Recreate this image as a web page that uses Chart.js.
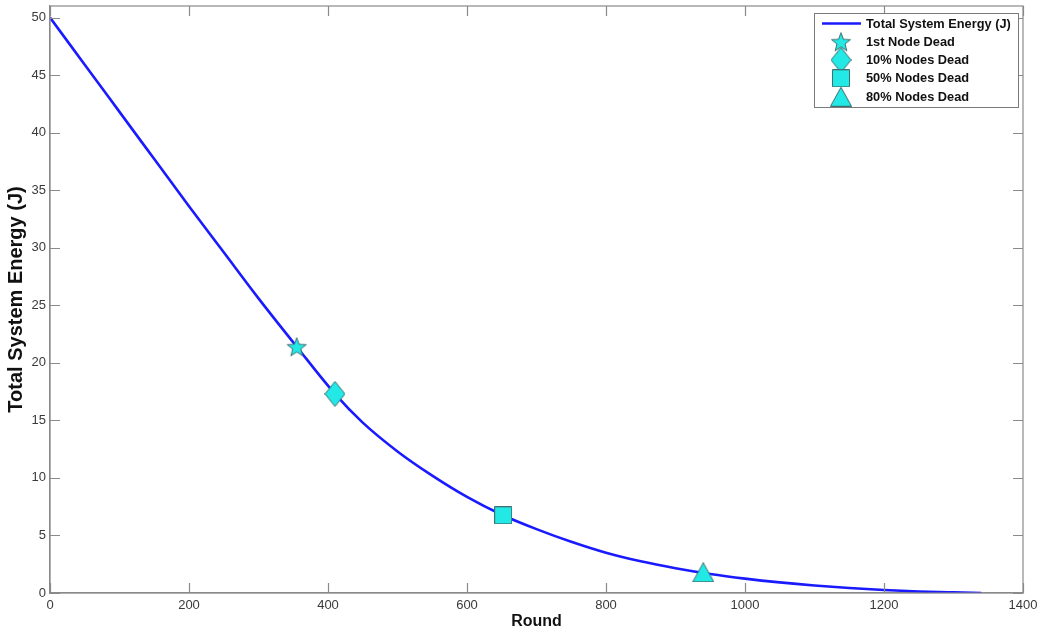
<!DOCTYPE html>
<html>
<head>
<meta charset="utf-8">
<script src="https://cdn.jsdelivr.net/npm/chart.js@4/dist/chart.umd.min.js"></script>
<style>
  html, body { margin: 0; padding: 0; background: #ffffff; }
  #wrap { width: 1043px; height: 634px; }
</style>
</head>
<body>
<div id="wrap"><canvas id="c" width="1043" height="634"></canvas></div>
<script>
// ---- data ----
const rounds = [0, 50, 100, 150, 200, 250, 300, 355, 410, 450, 500, 550, 600, 650, 700, 750, 800, 850, 900, 950, 1000, 1050, 1100, 1150, 1200, 1250, 1300, 1340];
const energy = [50, 45.9, 41.8, 37.7, 33.6, 29.6, 25.6, 21.4, 17.3, 14.8, 12.3, 10.2, 8.35, 6.8, 5.55, 4.45, 3.5, 2.75, 2.15, 1.65, 1.25, 0.92, 0.65, 0.43, 0.26, 0.13, 0.05, 0];
const eventLabels = ['1st Node Dead', '10% Nodes Dead', '50% Nodes Dead', '80% Nodes Dead'];
const eventRounds = [355, 410, 652, 940];
const eventEnergy = [21.4, 17.3, 6.75, 1.8];
const lineLabel = 'Total System Energy (J)';
const xTicks = [0, 200, 400, 600, 800, 1000, 1200, 1400];
const yTicks = [0, 5, 10, 15, 20, 25, 30, 35, 40, 45, 50];

// ---- styles ----
const FONT = '"Liberation Sans", Arial, Helvetica, sans-serif';
const LINE_COLOR = '#1a1aff';
const FILL = '#22e8e6';
const EDGE = '#3d7070';
const AXIS = '#8a8a8a';

function makeMarker(kind) {
  const c = document.createElement('canvas');
  let w, h;
  if (kind === 'star') { w = 22; h = 21; }
  else if (kind === 'diamond') { w = 21; h = 26; }
  else if (kind === 'square') { w = 18; h = 18; }
  else { w = 22; h = 20; }
  c.width = w; c.height = h;
  const g = c.getContext('2d');
  g.fillStyle = FILL; g.strokeStyle = EDGE; g.lineWidth = 1;
  g.beginPath();
  if (kind === 'star') {
    const cx = w / 2, cy = h / 2 + 1, R = 10, r = 4.2;
    for (let i = 0; i < 10; i++) {
      const a = -Math.PI / 2 + i * Math.PI / 5;
      const rr = i % 2 === 0 ? R : r;
      const px = cx + rr * Math.cos(a), py = cy + rr * Math.sin(a);
      if (i === 0) g.moveTo(px, py); else g.lineTo(px, py);
    }
  } else if (kind === 'diamond') {
    g.moveTo(w / 2, 0.5); g.lineTo(w - 0.5, h / 2); g.lineTo(w / 2, h - 0.5); g.lineTo(0.5, h / 2);
  } else if (kind === 'square') {
    g.rect(0.5, 0.5, w - 1, h - 1);
  } else {
    g.moveTo(w / 2, 0.5); g.lineTo(w - 0.5, h - 0.5); g.lineTo(0.5, h - 0.5);
  }
  g.closePath(); g.fill(); g.stroke();
  return c;
}
const markers = [makeMarker('star'), makeMarker('diamond'), makeMarker('square'), makeMarker('triangle')];

const datasets = [{
  label: lineLabel,
  data: rounds.map((r, i) => ({ x: r, y: energy[i] })),
  borderColor: LINE_COLOR,
  backgroundColor: LINE_COLOR,
  borderWidth: 2.6,
  pointRadius: 0,
  cubicInterpolationMode: 'monotone',
  fill: false,
  order: 2
}];
eventLabels.forEach((lab, i) => {
  datasets.push({
    label: lab,
    type: 'scatter',
    data: [{ x: eventRounds[i], y: eventEnergy[i] }],
    pointStyle: markers[i],
    pointRadius: 10,
    showLine: false,
    order: 1
  });
});

// box + inward ticks
const boxPlugin = {
  id: 'boxTicks',
  afterDatasetsDraw(chart) {
    const { ctx, chartArea: a, scales: { x, y } } = chart;
    ctx.save();
    ctx.strokeStyle = AXIS;
    ctx.lineWidth = 1.2;
    ctx.strokeRect(a.left, a.top, a.right - a.left, a.bottom - a.top);
    const L = 10;
    ctx.beginPath();
    xTicks.forEach(v => {
      const px = Math.round(x.getPixelForValue(v)) + 0.5;
      ctx.moveTo(px, a.bottom); ctx.lineTo(px, a.bottom - L);
      ctx.moveTo(px, a.top); ctx.lineTo(px, a.top + L);
    });
    yTicks.forEach(v => {
      const py = Math.round(y.getPixelForValue(v)) + 0.5;
      ctx.moveTo(a.left, py); ctx.lineTo(a.left + L, py);
      ctx.moveTo(a.right, py); ctx.lineTo(a.right - L, py);
    });
    ctx.stroke();
    ctx.restore();
  }
};

// MATLAB-like legend box
const legendPlugin = {
  id: 'matLegend',
  afterDraw(chart) {
    const { ctx } = chart;
    const bx = 814, by = 13, bw = 204, bh = 94;
    ctx.save();
    ctx.fillStyle = '#ffffff';
    ctx.fillRect(bx, by, bw, bh);
    ctx.strokeStyle = '#7a7a7a';
    ctx.lineWidth = 1;
    ctx.strokeRect(bx + 0.5, by + 0.5, bw, bh);
    const rows = [23.5, 41.7, 60, 78.3, 96.7];
    const names = [lineLabel].concat(eventLabels);
    ctx.font = 'bold 12.8px ' + FONT;
    ctx.textBaseline = 'middle';
    ctx.textAlign = 'left';
    names.forEach((n, i) => {
      const cy = rows[i];
      if (i === 0) {
        ctx.strokeStyle = LINE_COLOR; ctx.lineWidth = 2.6;
        ctx.beginPath(); ctx.moveTo(822, cy); ctx.lineTo(861, cy); ctx.stroke();
      } else {
        const m = markers[i - 1];
        ctx.drawImage(m, 841 - m.width / 2, cy - m.height / 2);
      }
      ctx.fillStyle = '#111111';
      ctx.fillText(n, 866, cy + 0.5);
    });
    ctx.restore();
  }
};

new Chart(document.getElementById('c'), {
  type: 'line',
  data: { datasets },
  options: {
    responsive: false,
    devicePixelRatio: 1,
    animation: false,
    events: [],
    layout: { autoPadding: false, padding: { left: 0, right: 20, top: 6, bottom: 0 } },
    plugins: { legend: { display: false }, tooltip: { enabled: false }, title: { display: false } },
    scales: {
      x: {
        type: 'linear',
        min: 0, max: 1400,
        afterFit(s) { s.height = 41; s.paddingLeft = 0; s.paddingRight = 0; },
        afterBuildTicks(s) { s.ticks = xTicks.map(v => ({ value: v })); },
        grid: { display: false, drawTicks: false },
        border: { display: true, color: AXIS, width: 1.2 },
        ticks: { padding: 5, color: '#3a3a3a', font: { family: FONT, size: 13 }, maxRotation: 0, autoSkip: false, callback: v => String(v) },
        title: { display: true, text: 'Round', color: '#111111', font: { family: FONT, size: 16, weight: 'bold' }, padding: { top: 0, bottom: 3 } }
      },
      y: {
        type: 'linear',
        min: 0, max: 51,
        afterFit(s) { s.width = 50; s.paddingTop = 0; s.paddingBottom = 0; },
        afterBuildTicks(s) { s.ticks = yTicks.map(v => ({ value: v })); },
        grid: { display: false, drawTicks: false },
        border: { display: true, color: AXIS, width: 1.2 },
        ticks: { padding: 4, color: '#3a3a3a', font: { family: FONT, size: 13 }, autoSkip: false, callback: v => String(v) },
        title: { display: true, text: 'Total System Energy (J)', color: '#111111', font: { family: FONT, size: 20, weight: 'bold' }, padding: { top: 4, bottom: 0 } }
      }
    }
  },
  plugins: [boxPlugin, legendPlugin]
});
</script>
</body>
</html>
